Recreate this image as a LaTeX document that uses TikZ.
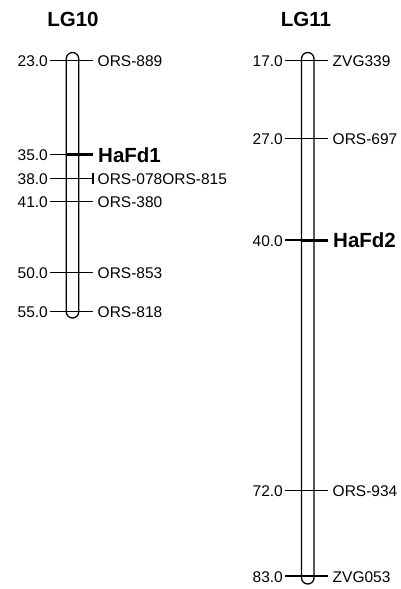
\documentclass[tikz,border=0pt]{standalone}
\usepackage{fontspec}
\setmainfont{Liberation Sans}
\begin{document}
\begin{tikzpicture}[x=1pt,y=-1pt,
  chrom/.style={draw=black,line width=1.3pt,rounded corners=6.25pt},
  tickline/.style={line width=1.3pt},
  qtlline/.style={line width=3pt},
  cmlabel/.style={anchor=base east,inner sep=0pt,font=\fontsize{15.5}{15.5}\selectfont},
  mklabel/.style={anchor=base west,inner sep=0pt,font=\fontsize{15.5}{15.5}\selectfont},
  qtlname/.style={anchor=base west,inner sep=0pt,font=\fontsize{20.5}{20.5}\selectfont\bfseries},
  lgtitle/.style={anchor=base,inner sep=0pt,font=\fontsize{20.5}{20.5}\selectfont\bfseries}]
\useasboundingbox (0,0) rectangle (401,589);

% ---------- LG10 ----------
\node[lgtitle] (t10) at (73,26) {LG10};
\draw[chrom] (66.25,52.5) rectangle (78.75,318);
% marker positions: y = 60.5 + (cM-23)*7.85
\foreach \y/\cm/\name in {60.5/23.0/ORS-889, 201.8/41.0/ORS-380, 272.5/50.0/ORS-853, 311.7/55.0/ORS-818}{
  \draw[tickline] (50,\y) -- (93,\y);
  \node[cmlabel] at (48,\y+6) {\cm};
  \node[mklabel] at (97.5,\y+6) {\name};
}
% QTL HaFd1
\draw[tickline] (50,154.7) -- (66.25,154.7);
\draw[qtlline] (66.25,154.7) -- (93,154.7);
\node[cmlabel] (p35) at (48,160.7) {35.0};
\node[qtlname] (hafd1) at (98,162.5) {HaFd1};
% two co-located markers
\draw[tickline] (50,178.3) -- (93,178.3);
\draw[tickline] (93,173) -- (93,183.6);
\node[cmlabel] (p38) at (48,184.3) {38.0};
\node[mklabel] (m38) at (97.5,184.3) {ORS-078ORS-815};

% ---------- LG11 ----------
\node[lgtitle] (t11) at (306,26) {LG11};
\draw[chrom] (301.5,52.5) rectangle (314,584);
% marker positions: y = 60.5 + (cM-17)*7.81
\foreach \y/\cm/\name in {60.5/17.0/ZVG339, 138.6/27.0/ORS-697, 490.3/72.0/ORS-934, 576/83.0/ZVG053}{
  \draw[tickline] (285,\y) -- (328,\y);
  \node[cmlabel] at (283,\y+6) {\cm};
  \node[mklabel] at (332.5,\y+6) {\name};
}
% QTL HaFd2
\draw[tickline] (285,240.1) -- (301.5,240.1);
\draw[qtlline] (301.5,240.1) -- (328,240.1);
\node[cmlabel] (p40) at (283,246.1) {40.0};
\node[qtlname] (hafd2) at (333,247.8) {HaFd2};
\end{tikzpicture}
\end{document}
